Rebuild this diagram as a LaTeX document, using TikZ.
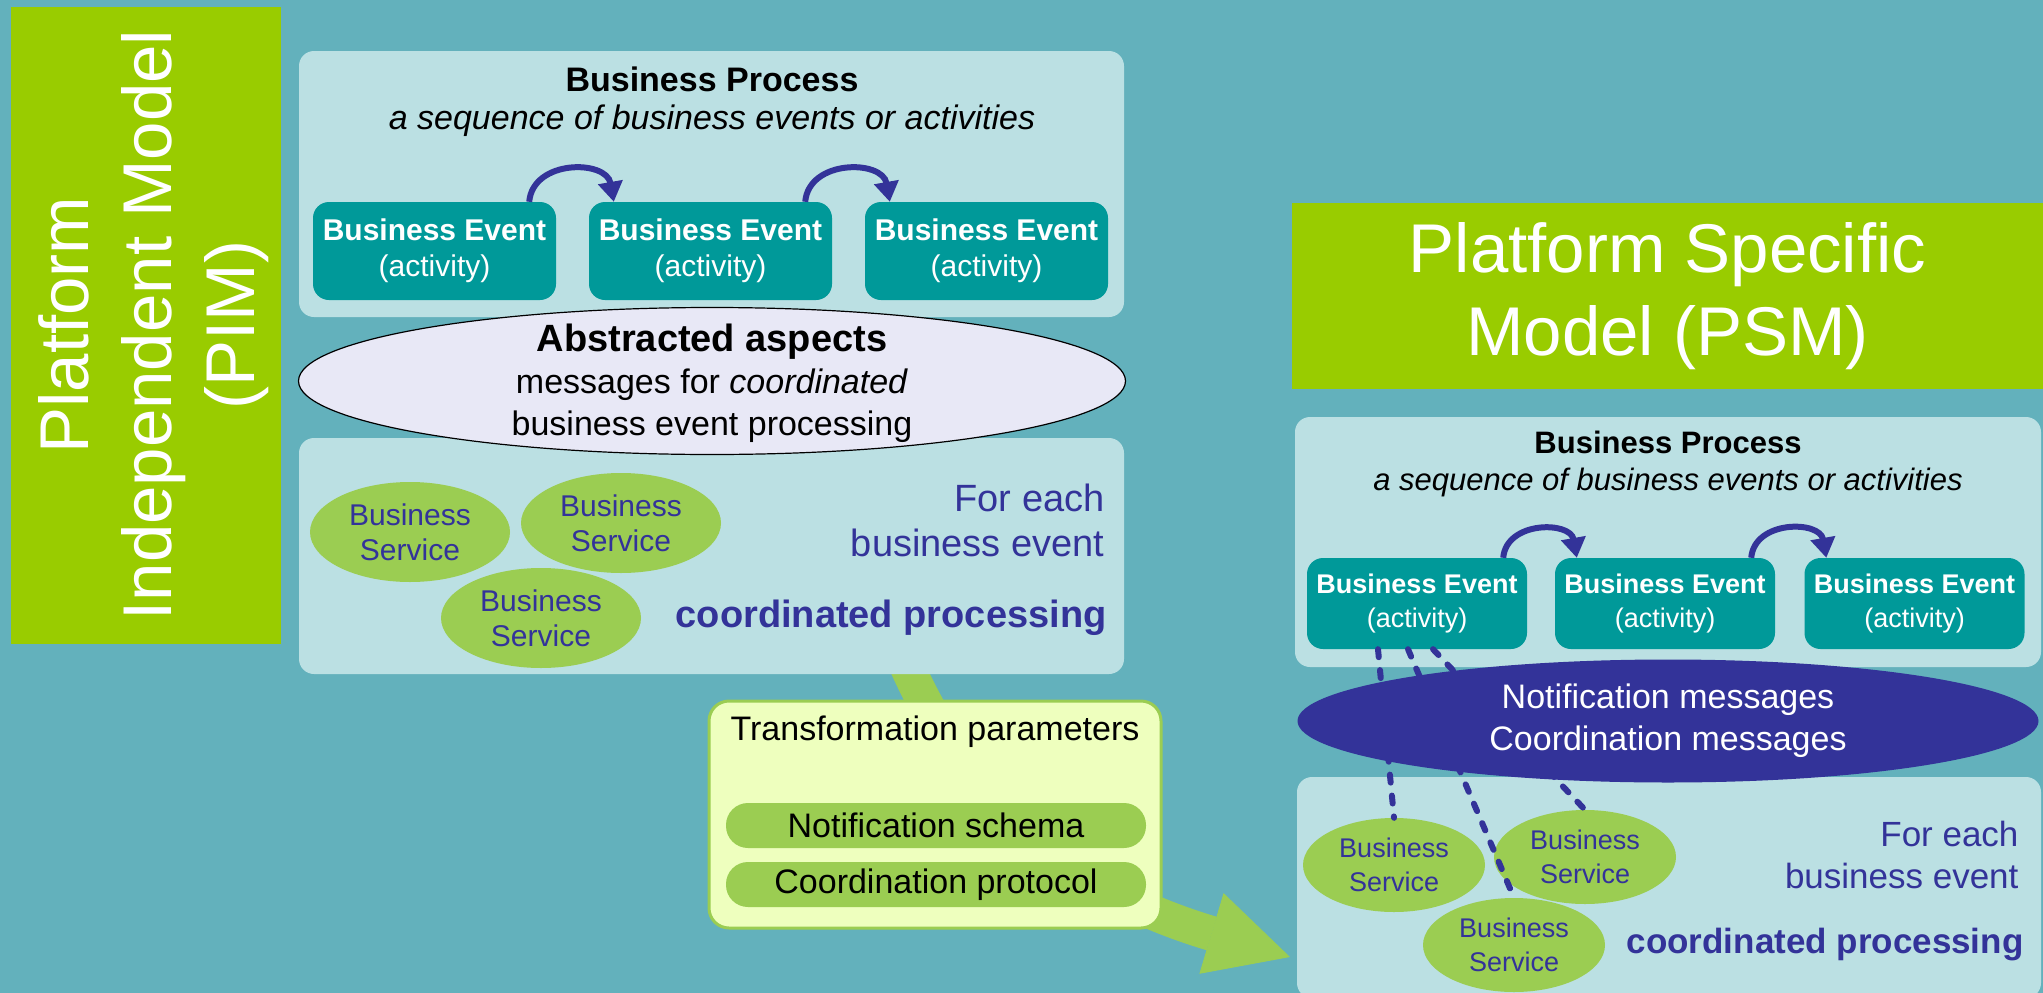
\documentclass[tikz,border=0pt]{standalone}
\usepackage{fontspec}
\setmainfont{Liberation Sans}
\usetikzlibrary{shapes.geometric,arrows.meta}
\definecolor{bgteal}{HTML}{63B1BC}
\definecolor{limegreen}{HTML}{99CC00}
\definecolor{palepanel}{HTML}{BBE0E3}
\definecolor{evteal}{HTML}{009999}
\definecolor{navy}{HTML}{333399}
\definecolor{svcgreen}{HTML}{9BCD52}
\definecolor{paramfill}{HTML}{EEFFBE}
\definecolor{lavender}{HTML}{E8E8F6}
\newcommand{\fsz}[2]{\fontsize{#1}{#2}\selectfont}

\begin{document}
\begin{tikzpicture}[x=1pt,y=-1pt,
  titlebox/.style={fill=limegreen,text=white,align=center,font=\fsz{69}{83}},
  panel/.style={fill=palepanel,rounded corners=15pt},
  evbox/.style={fill=evteal,text=white,align=center,rounded corners=16pt,inner sep=0pt},
  svc/.style={ellipse,fill=svcgreen,text=navy,align=center,inner sep=0pt},
  flow/.style={navy,line width=6pt,-{Triangle[length=20pt,width=24pt]}},
  msglink/.style={navy,line width=6pt,line cap=round,dash pattern=on 8pt off 13pt},
  pill/.style={fill=svcgreen,rounded corners=22pt,minimum width=420pt,minimum height=45pt,font=\fsz{34}{40}},
  bigarrow/.style={svcgreen,line width=35pt,-{Triangle[length=82pt,width=84pt,line width=1pt]}}]

  \useasboundingbox (0,0) rectangle (2043,993);
  \fill[bgteal] (0,0) rectangle (2043,993);
  \clip (0,0) rectangle (2043,993);

  \coordinate (armstart) at (900,650);
  \coordinate (armtip) at (1290,957);
  \draw[bigarrow] (armstart) .. controls (975,830) and (1100,900) .. (armtip);

  % platform independent side
  \node[titlebox,minimum width=270pt,minimum height=637pt] (pimbox) at (146,325) {};
  \node[text=white,align=center,font=\fsz{69}{83},rotate=90] (pimlabel) at (154,325) {Platform\\Independent Model\\(PIM)};

  \node[panel,minimum width=825pt,minimum height=266pt] (pimproc) at (711.5,184) {};
  \node[font=\fsz{34}{38},align=center] (pimhead) at (712,102) {\textbf{Business Process}\\\textit{a sequence of business events or activities}};
  \foreach \i/\x in {1/434.5,2/710.5,3/986.5}
    \node[evbox,minimum width=243pt,minimum height=98pt,font=\fsz{30}{36}] (pe\i) at (\x,251) {\textbf{Business Event}\\(activity)};
  \foreach \a/\b in {1/2,2/3}
    \draw[flow] ([xshift=-27pt]pe\a.north east) to[out=85,in=100,looseness=1.3] ([xshift=25pt]pe\b.north west);

  \node[panel,minimum width=825pt,minimum height=236pt] (pimsvc) at (711.5,556) {};
  \foreach \i/\x/\y in {1/410/532,2/621/523,3/541/618}
    \node[svc,minimum width=200pt,minimum height=100pt,font=\fsz{30}{35}] (pis\i) at (\x,\y) {Business\\Service};
  \node[anchor=east,text=navy,align=right,font=\fsz{38}{45}] (pimeach) at (1108,520) {For each\\business event};
  \node[anchor=east,text=navy,font=\fsz{38}{45}\bfseries] (pimcoord) at (1110,618) {coordinated processing};

  \node[ellipse,draw=black,line width=1.2pt,fill=lavender,minimum width=827pt,minimum height=147pt] (pimabs) at (712,381) {};
  \node[font=\fsz{34}{42},align=center] (pimabstext) at (712,383) {{\fsz{38}{42}\bfseries Abstracted aspects}\\messages for \textit{coordinated}\\business event processing};

  % transformation
  \node[fill=paramfill,draw=svcgreen,line width=3pt,rounded corners=20pt,minimum width=452pt,minimum height=227pt] (params) at (935,814.5) {};
  \node[font=\fsz{34}{40}] (paramhead) at (935,732) {Transformation parameters};
  \node[pill] (schema) at (936,825.5) {Notification schema};
  \node[pill] (protocol) at (936,884.5) {Coordination protocol};

  % platform specific side
  \node[titlebox,minimum width=751pt,minimum height=186pt] (psmtitle) at (1667.5,296) {Platform Specific\\Model (PSM)};

  \node[panel,minimum width=746pt,minimum height=250pt] (psmproc) at (1668,542) {};
  \node[font=\fsz{31}{37},align=center] (psmhead) at (1668,464) {\textbf{Business Process}\\\textit{a sequence of business events or activities}};
  \foreach \i/\x in {1/1417,2/1665,3/1914.5}
    \node[evbox,minimum width=220pt,minimum height=91pt,font=\fsz{27}{34}] (se\i) at (\x,603.5) {\textbf{Business Event}\\(activity)};
  \foreach \a/\b in {1/2,2/3}
    \draw[flow] ([xshift=-24pt]se\a.north east) to[out=85,in=100,looseness=1.3] ([xshift=22pt]se\b.north west);

  \node[panel,minimum width=744pt,minimum height=221pt] (psmsvc) at (1669,887.5) {};
  \foreach \i/\x/\y in {1/1394/865,2/1585/857,3/1514/945}
    \node[svc,minimum width=182pt,minimum height=94pt,font=\fsz{27}{34}] (ss\i) at (\x,\y) {Business\\Service};
  \node[anchor=east,text=navy,align=right,font=\fsz{35}{42}] (psmeach) at (2022,855) {For each\\business event};
  \node[anchor=east,text=navy,font=\fsz{35}{42}\bfseries] (psmcoord) at (2027,945) {coordinated processing};

  \draw[msglink] ([xshift=-39pt]se1.south) -- (ss1.north);
  \draw[msglink] ([xshift=-9pt]se1.south) -- (ss3.north);
  \draw[msglink] ([xshift=16pt]se1.south) -- (ss2.north);

  \node[ellipse,fill=navy,text=white,align=center,inner sep=0pt,minimum width=741pt,minimum height=123pt,font=\fsz{34}{42}] (psmmsg) at (1668,721) {Notification messages\\Coordination messages};
\end{tikzpicture}
\end{document}
